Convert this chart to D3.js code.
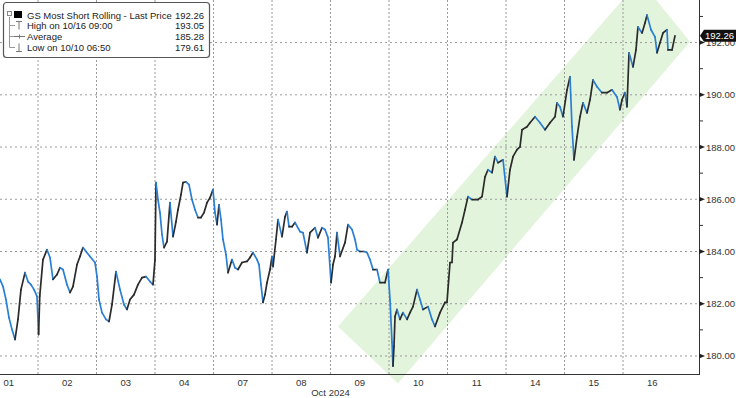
<!DOCTYPE html>
<html>
<head>
<meta charset="utf-8">
<script src="https://cdn.jsdelivr.net/npm/d3@7"></script>
<style>
  body { margin: 0; background: #fff; }
  svg { display: block; font-family: "Liberation Sans", Arial, sans-serif; }
</style>
</head>
<body>
<div id="chart"></div>
<script>
// trading-day offset from start of Oct 01 session (1.0 = one session)
const times = [
  0.350, 0.402, 0.453, 0.504, 0.556, 0.607, 0.658, 0.709, 0.778, 0.829, 0.880, 0.932, 0.983, 1.010, 1.030,
  1.085, 1.154, 1.205, 1.256, 1.325, 1.376, 1.427, 1.496, 1.547, 1.598, 1.667, 1.718, 1.769, 1.821, 1.889, 1.974,
  2.009, 2.043, 2.094, 2.162, 2.214, 2.265, 2.333, 2.402, 2.470, 2.521, 2.573, 2.641, 2.709, 2.778, 2.846, 2.915, 2.966,
  3.000, 3.017, 3.051, 3.085, 3.120, 3.154, 3.205, 3.256, 3.308, 3.359, 3.393, 3.444, 3.479, 3.530, 3.581, 3.632, 3.684, 3.735, 3.786, 3.838, 3.889, 3.940, 3.991,
  4.026, 4.060, 4.094, 4.128, 4.162, 4.214, 4.248, 4.316, 4.368, 4.419, 4.487, 4.573, 4.624, 4.675, 4.744, 4.778, 4.812, 4.846, 4.880, 4.915, 4.966,
  5.000, 5.017, 5.068, 5.103, 5.171, 5.222, 5.256, 5.291, 5.342, 5.393, 5.479, 5.530, 5.598, 5.650, 5.735, 5.786, 5.855, 5.906, 5.957,
  6.009, 6.043, 6.077, 6.111, 6.162, 6.248, 6.299, 6.368, 6.419, 6.453, 6.504, 6.573, 6.624, 6.675, 6.726, 6.795, 6.846, 6.932, 6.983,
  7.017, 7.051, 7.068, 7.085, 7.103, 7.137, 7.188, 7.239, 7.308, 7.359, 7.410, 7.479, 7.530, 7.581, 7.667, 7.735, 7.786, 7.872, 7.957, 7.991,
  8.043, 8.077, 8.094, 8.162, 8.248, 8.299, 8.350, 8.419, 8.521, 8.590, 8.641, 8.692, 8.761, 8.812, 8.863, 8.949,
  9.017, 9.068, 9.120, 9.188, 9.239, 9.274, 9.359, 9.410, 9.496, 9.581, 9.667, 9.752, 9.838, 9.872, 9.923, 9.974,
  10.043, 10.094, 10.128, 10.162, 10.214, 10.265, 10.316, 10.385, 10.436, 10.487, 10.556, 10.641, 10.726, 10.812, 10.897, 10.949, 10.983,
  11.034, 11.068, 11.103, 11.171, 11.222, 11.256, 11.325, 11.376, 11.410, 11.479, 11.547, 11.581, 11.632, 11.684, 11.752, 11.769, 11.838, 11.889
];
const prices = [
  182.93, 182.66, 182.16, 181.47, 181.01, 180.63, 181.40, 182.54, 183.19, 182.85, 182.73, 182.54, 182.28, 180.82, 182.30,
  183.69, 184.07, 183.77, 182.93, 183.12, 183.38, 183.31, 182.73, 182.43, 182.66, 183.50, 183.81, 184.15, 184.00, 183.81, 183.58,
  183.04, 182.16, 181.66, 181.40, 181.32, 181.97, 183.23, 182.54, 181.97, 181.78, 182.16, 182.35, 182.73, 183.00, 183.04, 182.85, 182.73,
  183.69, 186.64, 185.99, 185.49, 184.65, 184.15, 184.38, 185.87, 184.57, 185.14, 185.60, 186.18, 186.64, 186.67, 186.56, 185.99, 185.60, 185.30, 185.30, 185.49, 185.87, 186.06, 186.37,
  185.49, 185.03, 185.79, 185.22, 184.46, 183.88, 183.19, 183.69, 183.38, 183.31, 183.58, 183.62, 183.77, 183.96, 183.69, 183.50, 182.73, 182.05, 182.35, 182.81, 183.31,
  183.81, 183.42, 184.46, 185.22, 184.57, 185.33, 185.53, 184.95, 184.95, 185.11, 184.76, 184.72, 183.96, 184.72, 184.91, 184.53, 184.91, 184.84, 184.53,
  182.81, 183.50, 183.81, 184.72, 183.81, 184.34, 185.03, 184.84, 184.46, 184.07, 184.00, 184.00, 183.96, 183.69, 183.31, 183.31, 182.81, 182.81, 183.31,
  182.16, 180.52, 179.61, 180.36, 181.51, 181.78, 181.40, 181.66, 181.40, 181.66, 181.89, 182.54, 182.16, 181.78, 181.89, 181.40, 181.13, 181.66, 182.05, 182.05,
  183.58, 183.58, 184.34, 184.46, 185.11, 185.60, 186.10, 185.99, 185.99, 186.10, 186.86, 187.13, 187.02, 187.63, 187.40, 187.51,
  186.10, 187.13, 187.63, 187.90, 188.01, 188.66, 188.78, 188.93, 189.16, 188.93, 188.66, 188.93, 189.16, 189.69, 189.54, 189.16,
  190.19, 190.69, 188.78, 187.51, 188.39, 189.16, 189.69, 189.31, 189.81, 190.57, 190.31, 190.08, 190.08, 190.19, 189.92, 189.43, 189.81,
  190.08, 189.54, 191.61, 191.07, 191.72, 192.60, 192.37, 192.75, 193.05, 192.49, 192.22, 191.61, 191.99, 192.37, 192.49, 191.72, 191.72, 192.26
];

const dayLabels = ["01", "02", "03", "04", "07", "08", "09", "10", "11", "14", "15", "16"];
const monthLabel = "Oct 2024";
const yTicks = [180, 182, 184, 186, 188, 190, 192];
const yMinorTicks = [181, 183, 185, 187, 189, 191, 193];

// trend channel corners (time, price)
const channelTimes = [6.128, 11.291, 12.145, 7.154];
const channelPrices = [181.13, 194.40, 192.03, 178.95];

const legendNames = ["GS Most Short Rolling - Last Price", "High on 10/16 09:00", "Average", "Low on 10/10 06:50"];
const legendValues = [192.26, 193.05, 185.28, 179.61];
const lastPrice = 192.26;

const W = 736, H = 398;
const plotRight = 699, plotBottom = 374;

const svg = d3.select("#chart").append("svg")
  .attr("width", W)
  .attr("height", H);

const x = d3.scaleLinear().domain([0.3504, 12.299]).range([0, plotRight]);
const y = d3.scaleLinear().domain([179.31, 193.63]).range([plotBottom, 0]);

const data = times.map((t, i) => ({ t: t, p: prices[i] }));

// channel
const channel = channelTimes.map((t, i) => [x(t), y(channelPrices[i])]);
svg.append("path")
  .attr("d", "M" + channel.join("L") + "Z")
  .attr("fill", "#e3f4dc");

// grid
svg.append("g").selectAll("line")
  .data(yTicks)
  .enter().append("line")
  .attr("x1", 0).attr("x2", plotRight)
  .attr("y1", d => y(d)).attr("y2", d => y(d))
  .attr("stroke", "#9a9a9a")
  .attr("stroke-width", 1)
  .attr("stroke-dasharray", "2,3");

svg.append("g").selectAll("line")
  .data(d3.range(1, dayLabels.length))
  .enter().append("line")
  .attr("x1", d => x(d)).attr("x2", d => x(d))
  .attr("y1", 0).attr("y2", plotBottom)
  .attr("stroke", "#9a9a9a")
  .attr("stroke-width", 1)
  .attr("stroke-dasharray", "2,2");

// price line: rising pieces dark, falling pieces blue
const line = d3.line().x(d => x(d.t)).y(d => y(d.p));
const segs = d3.pairs(data);
svg.append("g").selectAll("path")
  .data(segs)
  .enter().append("path")
  .attr("d", d => line(d))
  .attr("fill", "none")
  .attr("stroke", d => d[1].p >= d[0].p ? "#2b2b2b" : "#2a7fd4")
  .attr("stroke-width", 1.7)
  .attr("stroke-linecap", "round");

// axes frame
svg.append("line")
  .attr("x1", plotRight + 0.5).attr("x2", plotRight + 0.5)
  .attr("y1", 0).attr("y2", plotBottom)
  .attr("stroke", "#333").attr("stroke-width", 1);
svg.append("line")
  .attr("x1", 0).attr("x2", plotRight + 1)
  .attr("y1", plotBottom + 0.5).attr("y2", plotBottom + 0.5)
  .attr("stroke", "#333").attr("stroke-width", 1);

// y ticks
const yAxis = svg.append("g");
yAxis.selectAll("path.maj")
  .data(yTicks)
  .enter().append("path")
  .attr("d", d => `M${plotRight},${y(d) - 2.5}L${plotRight + 6},${y(d)}L${plotRight},${y(d) + 2.5}Z`)
  .attr("fill", "#222");
yAxis.selectAll("line.min")
  .data(yMinorTicks)
  .enter().append("line")
  .attr("x1", plotRight).attr("x2", plotRight + 4)
  .attr("y1", d => y(d)).attr("y2", d => y(d))
  .attr("stroke", "#333");
yAxis.selectAll("text")
  .data(yTicks)
  .enter().append("text")
  .attr("x", plotRight + 7)
  .attr("y", d => y(d) + 3.5)
  .style("font-size", "9.5px")
  .style("fill", "#333")
  .text(d => d3.format(".2f")(d));

// last price tag
const ly = y(lastPrice);
svg.append("path")
  .attr("d", `M${plotRight + 1},${ly}L${plotRight + 5},${ly - 6}H${W}V${ly + 6}H${plotRight + 5}Z`)
  .attr("fill", "#111");
svg.append("text")
  .attr("x", plotRight + 6)
  .attr("y", ly + 3.5)
  .style("font-size", "9.5px")
  .style("fill", "#fff")
  .text(d3.format(".2f")(lastPrice));

// x labels
svg.append("g").selectAll("text")
  .data(dayLabels)
  .enter().append("text")
  .attr("x", (d, i) => x(i + 0.5))
  .attr("y", plotBottom + 12)
  .attr("text-anchor", "middle")
  .style("font-size", "9.5px")
  .style("fill", "#333")
  .text(d => d);
svg.append("text")
  .attr("x", x(6))
  .attr("y", plotBottom + 22)
  .attr("text-anchor", "middle")
  .style("font-size", "9.5px")
  .style("fill", "#333")
  .text(monthLabel);

// legend
const lg = svg.append("g");
lg.append("rect")
  .attr("x", 3.5).attr("y", 2.5)
  .attr("width", 206).attr("height", 55)
  .attr("rx", 3)
  .attr("fill", "#fff")
  .attr("stroke", "#555")
  .attr("stroke-width", 1.2);

const rowY = [15, 25.5, 36.5, 47.5];
lg.append("line")
  .attr("x1", 9.5).attr("x2", 9.5)
  .attr("y1", rowY[0] + 2).attr("y2", rowY[3])
  .attr("stroke", "#999");
lg.append("rect")
  .attr("x", 7.5).attr("y", 11.5).attr("width", 4).attr("height", 4)
  .attr("fill", "#fff").attr("stroke", "#888");
lg.append("rect")
  .attr("x", 14).attr("y", 11).attr("width", 8).attr("height", 7)
  .attr("fill", "#000");
[1, 2, 3].forEach(i => {
  lg.append("line")
    .attr("x1", 9.5).attr("x2", 15)
    .attr("y1", rowY[i]).attr("y2", rowY[i])
    .attr("stroke", "#999");
});
// high marker
lg.append("path")
  .attr("d", `M16,${rowY[1] - 4}H22M19,${rowY[1] - 4}V${rowY[1] + 4}`)
  .attr("stroke", "#777").attr("fill", "none");
// average marker
lg.append("path")
  .attr("d", `M14,${rowY[2]}H25M19.5,${rowY[2] - 2}V${rowY[2] + 2}`)
  .attr("stroke", "#777").attr("fill", "none");
// low marker
lg.append("path")
  .attr("d", `M16,${rowY[3] + 4}H22M19,${rowY[3] - 4}V${rowY[3] + 4}`)
  .attr("stroke", "#777").attr("fill", "none");

lg.selectAll("text.name")
  .data(legendNames)
  .enter().append("text")
  .attr("x", 27)
  .attr("y", (d, i) => rowY[i] + 3.5)
  .style("font-size", "9.5px")
  .style("fill", "#222")
  .text(d => d);
lg.selectAll("text.val")
  .data(legendValues)
  .enter().append("text")
  .attr("x", 204)
  .attr("y", (d, i) => rowY[i] + 3.5)
  .attr("text-anchor", "end")
  .style("font-size", "9.5px")
  .style("fill", "#222")
  .text(d => d3.format(".2f")(d));
</script>
</body>
</html>
